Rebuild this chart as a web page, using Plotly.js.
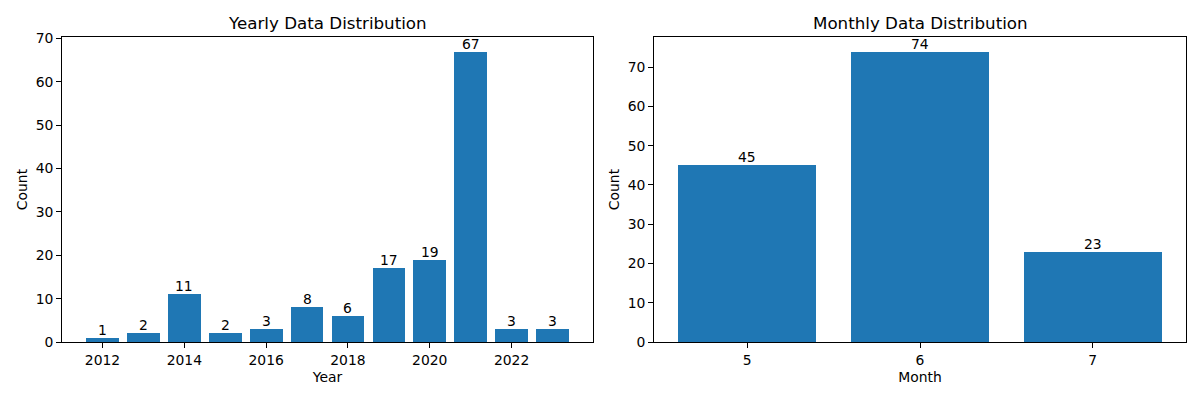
<!DOCTYPE html>
<html><head><meta charset="utf-8">
<script src="https://cdn.plot.ly/plotly-3.0.1.min.js"></script>
<style>html,body{margin:0;padding:0;background:#fff}#chart{width:1200px;height:400px}</style>
</head><body><div id="chart"></div>
<script>
const years = [2012,2013,2014,2015,2016,2017,2018,2019,2020,2021,2022,2023];
const yearCounts = [1,2,11,2,3,8,6,17,19,67,3,3];
const months = [5,6,7];
const monthCounts = [45,74,23];
const yearTicks = [2012,2014,2016,2018,2020,2022];
const countTicks = [0,10,20,30,40,50,60,70];

const F = 'DejaVu Sans, sans-serif';
const FS = 13.9;
const blue = '#1f77b4';

const traces = [
  {type:'bar', x:years, y:yearCounts, width:0.8, marker:{color:blue, line:{width:0}},
   xaxis:'x', yaxis:'y', hoverinfo:'none'},
  {type:'bar', x:months, y:monthCounts, width:0.8, marker:{color:blue, line:{width:0}},
   xaxis:'x2', yaxis:'y2', hoverinfo:'none'}
];

function ax(extra){
  return Object.assign({
    showgrid:false, zeroline:false, showline:true, linecolor:'#000', linewidth:1, mirror:true,
    ticks:'outside', ticklen:4.9, tickwidth:1, tickcolor:'#000',
    tickfont:{family:F,size:FS,color:'#000'}, fixedrange:true
  }, extra);
}

function barLabels(xs, ys, xr, yr){
  return xs.map((x,i)=>({text:String(ys[i]), x:x, y:ys[i], xref:xr, yref:yr, xanchor:'center', yanchor:'bottom',
    yshift:-1, showarrow:false, borderpad:0, font:{family:F,size:FS,color:'#000'}}));
}

const layout = {
  width:1200, height:400, paper_bgcolor:'#fff', plot_bgcolor:'#fff',
  margin:{l:0,r:0,t:37,b:58}, showlegend:false, font:{family:F,color:'#000'},
  bargap:0,
  xaxis: ax({domain:[62/1200,593/1200], range:[2011.01,2023.99], tickvals:yearTicks, ticktext:yearTicks.map(String),
    title:{text:'Year', font:{family:F,size:FS,color:'#000'}, standoff:5}, anchor:'y'}),
  yaxis: ax({domain:[0,1], range:[0,70.35], tickvals:countTicks, anchor:'x',
    title:{text:'Count', font:{family:F,size:FS,color:'#000'}, standoff:4.5}}),
  xaxis2: ax({domain:[654/1200,1186/1200], range:[4.46,7.54], tickvals:months, ticktext:months.map(String),
    title:{text:'Month', font:{family:F,size:FS,color:'#000'}, standoff:5}, anchor:'y2'}),
  yaxis2: ax({domain:[0,1], range:[0,77.7], tickvals:countTicks, anchor:'x2',
    title:{text:'Count', font:{family:F,size:FS,color:'#000'}, standoff:4.5}}),
  annotations:[
    {text:'Yearly Data Distribution', xref:'paper', yref:'paper', x:(62+593)/2/1200, xanchor:'center', y:1, yanchor:'bottom', yshift:2,
     showarrow:false, font:{family:F,size:16.7,color:'#000'}},
    {text:'Monthly Data Distribution', xref:'paper', yref:'paper', x:(654+1186)/2/1200, xanchor:'center', y:1, yanchor:'bottom', yshift:2,
     showarrow:false, font:{family:F,size:16.7,color:'#000'}}
  ].concat(barLabels(years, yearCounts, 'x', 'y'), barLabels(months, monthCounts, 'x2', 'y2'))
};
Plotly.newPlot('chart', traces, layout, {displayModeBar:false, staticPlot:true});
</script></body></html>
